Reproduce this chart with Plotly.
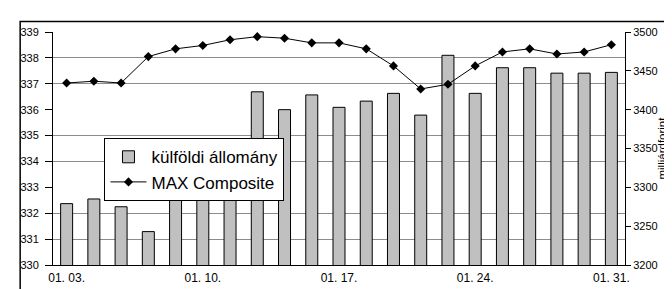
import plotly.graph_objects as go

dates = ["01. 03.", "01. 04.", "01. 05.", "01. 06.", "01. 07.",
         "01. 10.", "01. 11.", "01. 12.", "01. 13.", "01. 14.",
         "01. 17.", "01. 18.", "01. 19.", "01. 20.", "01. 21.",
         "01. 24.", "01. 25.", "01. 26.", "01. 27.", "01. 28.",
         "01. 31."]
kulfoldi = [3279, 3285, 3275, 3243, 3325, 3340, 3355, 3423, 3400, 3419,
            3403, 3411, 3421, 3393, 3470, 3421, 3454, 3454, 3447, 3447, 3448]
max_comp = [337.03, 337.10, 337.03, 338.05, 338.35, 338.48, 338.70, 338.82, 338.76, 338.58,
            338.58, 338.35, 337.69, 336.80, 336.98, 337.69, 338.23, 338.35, 338.15, 338.23, 338.51]
label_dates = ["01. 03.", "01. 10.", "01. 17.", "01. 24.", "01. 31."]

xs = list(range(len(dates)))
tickvals = [dates.index(d) for d in label_dates]

FONT = "Liberation Sans, Arial, sans-serif"

fig = go.Figure()
fig.add_trace(go.Bar(
    x=xs, y=kulfoldi, name="külföldi állomány", yaxis="y",
    marker=dict(color="#c0c0c0", line=dict(color="#000000", width=1)),
    width=0.44, legendgroup="a",
))
fig.add_trace(go.Scatter(
    x=xs, y=max_comp, name="MAX Composite", yaxis="y2", mode="lines+markers",
    line=dict(color="#000000", width=1),
    marker=dict(symbol="diamond", size=7, color="#000000"),
    legendgroup="b",
))

fig.update_layout(
    width=672, height=289,
    margin=dict(l=42, r=55, t=24, b=24),
    paper_bgcolor="white", plot_bgcolor="white",
    font=dict(family=FONT, size=11, color="#000000"),
    showlegend=True,
    legend=dict(
        x=0.09, y=0.544, xanchor="left", yanchor="top",
        bgcolor="white", bordercolor="#000000", borderwidth=1,
        font=dict(family=FONT, size=17, color="#000000"),
        itemwidth=36, tracegroupgap=6, traceorder="normal",
    ),
    xaxis=dict(
        range=[-0.5, len(dates) - 0.5],
        tickmode="array", tickvals=tickvals, ticktext=label_dates,
        showgrid=False, showline=True, linecolor="#000000", linewidth=1,
        ticks="", tickfont=dict(size=12), zeroline=False,
        ticklabelstandoff=2,
    ),
    yaxis=dict(
        side="right", range=[3200, 3500], dtick=50, tick0=3200,
        showgrid=False, showline=True, linecolor="#000000", linewidth=1,
        ticks="outside", ticklen=5, tickcolor="#000000",
        zeroline=False, tickfont=dict(size=11),
        minor=dict(showgrid=True, tick0=3200, dtick=300 / 9,
                   gridcolor="#8c8c8c", gridwidth=1),
    ),
    yaxis2=dict(
        side="left", overlaying="y", range=[330, 339], dtick=1,
        showgrid=False, showline=True, linecolor="#000000", linewidth=1,
        ticks="outside", ticklen=7, tickcolor="#000000",
        zeroline=False, tickfont=dict(size=11), ticklabelstandoff=4,
    ),
    annotations=[dict(
        text="milliárdforint", xref="paper", yref="paper",
        x=1.063, y=0.5, xanchor="center", yanchor="middle",
        textangle=-90, showarrow=False, font=dict(size=11.5, color="#000000"),
    )],
    shapes=[dict(
        type="rect", xref="paper", yref="paper",
        x0=-0.0574, x1=1.0925, y0=-0.11, y1=1.0456,
        line=dict(color="#000000", width=1.5), fillcolor="rgba(0,0,0,0)",
        layer="below",
    )],
)

fig.write_html("out.html")
